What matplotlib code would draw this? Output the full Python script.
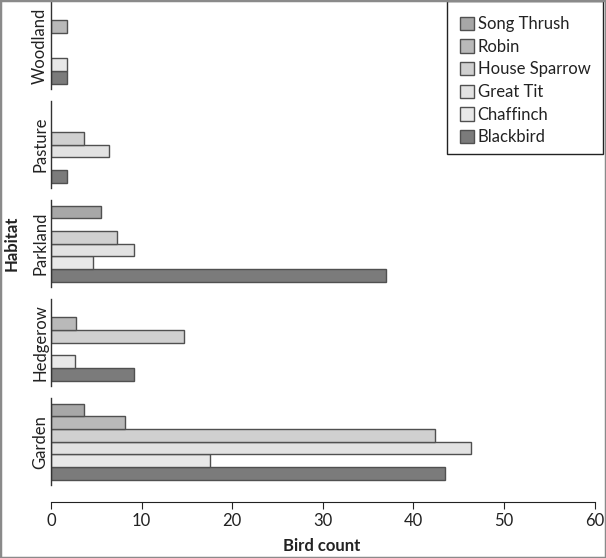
import matplotlib
matplotlib.use("Agg")
import matplotlib.pyplot as plt
from matplotlib.patches import Rectangle, Patch

plt.rcParams['font.family'] = ['Lato', 'DejaVu Sans']

habitats = ["Garden", "Hedgerow", "Parkland", "Pasture", "Woodland"]
species = ["Blackbird", "Chaffinch", "Great Tit", "House Sparrow", "Robin", "Song Thrush"]
colors = ["#7b7b7b", "#e8e8e8", "#e2e2e2", "#d0d0d0", "#b9b9b9", "#a7a7a7"]

counts = {
    "Garden":   [43.5, 17.5, 46.3, 42.4, 8.2, 3.6],
    "Hedgerow": [9.2, 2.7, 0, 14.7, 2.8, 0],
    "Parkland": [37.0, 4.6, 9.2, 7.3, 0, 5.5],
    "Pasture":  [1.8, 0, 6.4, 3.6, 0, 0],
    "Woodland": [1.8, 1.8, 0, 0, 1.8, 0],
}
x_ticks = [0, 10, 20, 30, 40, 50, 60]

W, H = 606, 558
fig = plt.figure(figsize=(W / 100, H / 100), dpi=100)
fig.patches.append(Rectangle((0, 0), 1, 1, transform=fig.transFigure,
                             fill=False, edgecolor="#8a8a8a", linewidth=2.5, zorder=10))

left_px, right_px = 51, 594.7
seg_h, step, bottom_px = 87, 99, 485
edge = "#505050"
txt = "#222222"
for i, hab in enumerate(habitats):
    b = (H - bottom_px + i * step) / H
    ax = fig.add_axes([left_px / W, b, (right_px - left_px) / W, seg_h / H])
    vals = counts[hab]
    for j, (sp, v) in enumerate(zip(species, vals)):
        if v > 0:
            ax.barh(j, v, height=1.0, color=colors[j], edgecolor=edge, linewidth=1.0)
    ax.set_xlim(0, 60)
    ax.set_ylim(-0.92, 5.95)
    for s in ["top", "right"]:
        ax.spines[s].set_visible(False)
    ax.spines["left"].set_color("#333333")
    ax.spines["left"].set_linewidth(1.0)
    ax.set_yticks([2.5])
    ax.set_yticklabels([hab], rotation=90, va="center", fontsize=12, color=txt)
    ax.tick_params(axis="y", length=0, pad=2)
    if i == 0:
        ax.spines["bottom"].set_position(("outward", 12))
        ax.spines["bottom"].set_color(txt)
        ax.set_xticks(x_ticks)
        ax.set_xticklabels([str(t) for t in x_ticks], fontsize=12, color=txt)
        ax.tick_params(axis="x", length=5, direction="out", color=txt, pad=3)
    else:
        ax.spines["bottom"].set_visible(False)
        ax.set_xticks([])

fig.text(322 / W, 1 - 546 / H, "Bird count", ha="center", va="center",
         fontsize=12, fontweight="bold", color=txt)
fig.text(12 / W, 1 - 243 / H, "Habitat", ha="center", va="center", rotation=90,
         fontsize=12, fontweight="bold", color=txt)

# legend box
bx0, by0, bx1, by1 = 447, 1.5, 603, 154
fig.patches.append(Rectangle((bx0 / W, 1 - by1 / H), (bx1 - bx0) / W, (by1 - by0) / H,
                             transform=fig.transFigure, facecolor="white",
                             edgecolor=txt, linewidth=1.0, zorder=5))
handles = [Patch(facecolor=colors[j], edgecolor=edge, linewidth=1.0, label=species[j])
           for j in range(len(species) - 1, -1, -1)]
leg = fig.legend(handles=handles, loc="upper left", bbox_to_anchor=(450 / W, 1 - 6 / H),
                 fontsize=12, frameon=False, handlelength=0.85,
                 handleheight=0.85, handletextpad=0.2, labelspacing=0.4,
                 borderpad=0.6, borderaxespad=0)
leg.set_zorder(6)
for t in leg.get_texts():
    t.set_color(txt)

fig.savefig("out.png", dpi=100)
